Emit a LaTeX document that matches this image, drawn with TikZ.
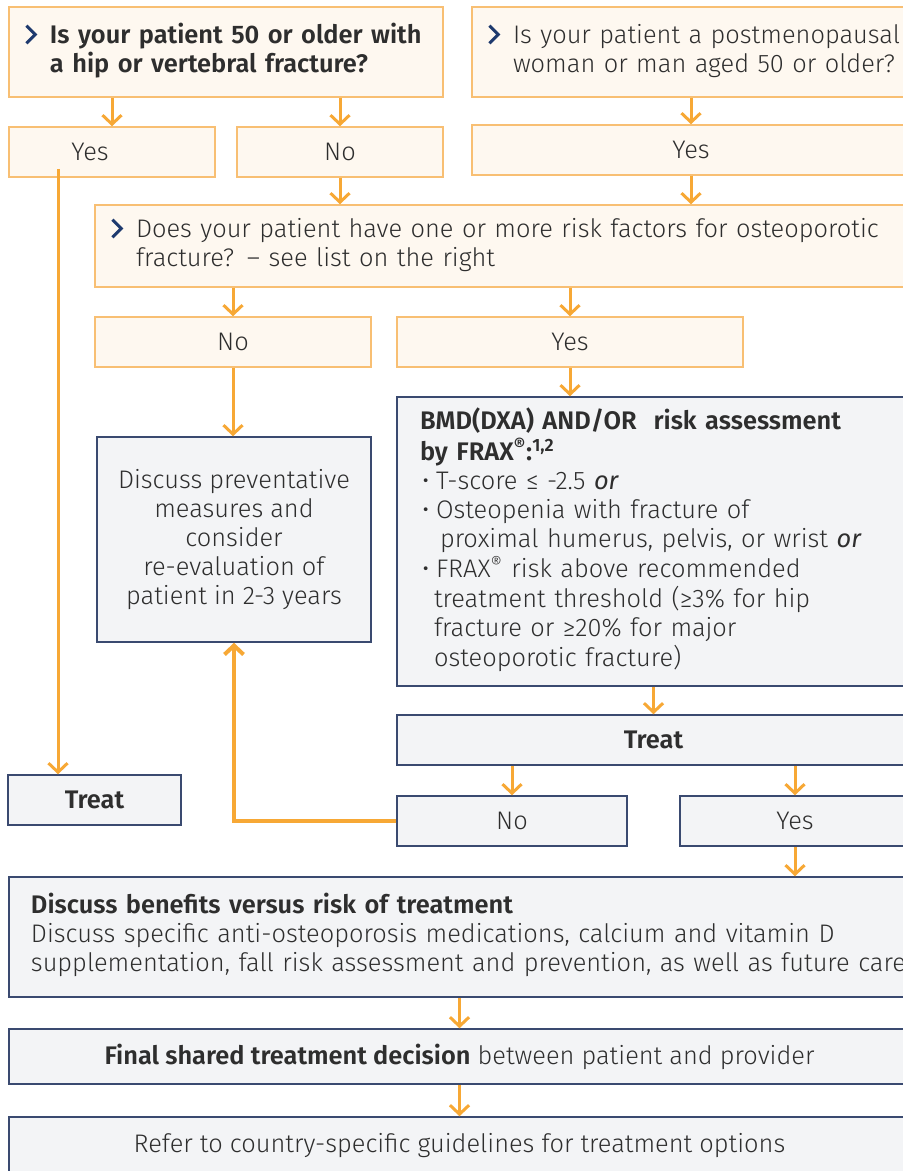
\documentclass[tikz,border=0pt]{standalone}
\usepackage{fontspec}
\setmainfont{Fira Sans}[UprightFont=* Light, BoldFont=* SemiBold, ItalicFont=* Italic, BoldItalicFont=* SemiBold Italic]
\usetikzlibrary{arrows.meta, calc}

\definecolor{cream}{HTML}{FEF8F0}
\definecolor{obord}{HTML}{F8BF73}
\definecolor{arrorange}{HTML}{F7A835}
\definecolor{greyfill}{HTML}{F3F4F6}
\definecolor{navyline}{HTML}{3A4A70}
\definecolor{chevblue}{HTML}{1E3A6E}
\definecolor{txt}{HTML}{2E2E2E}

\newcommand{\chev}{\tikz[baseline=0pt]\draw[chevblue, line width=1.5pt] (0pt,8.8pt) -- (4.4pt,4.4pt) -- (0pt,0pt);}
\newcommand{\chevcell}{\makebox[12.5pt][l]{\chev}}
\newcommand{\bul}{\makebox[8pt][l]{\hspace{1pt}•}}

\tikzset{
  every node/.style={font=\fontsize{12.7}{14.5}\selectfont, text=txt},
  qbox/.style={draw=obord, fill=cream, line width=0.75pt, inner xsep=8pt, inner ysep=0pt},
  abox/.style={draw=obord, fill=cream, line width=0.75pt, minimum height=25pt, inner sep=0pt},
  gbox/.style={draw=navyline, fill=greyfill, line width=0.75pt, inner sep=0pt},
  arr/.style={draw=arrorange, line width=1.5pt, -{Straight Barb[length=4.5pt, width=9.5pt]}},
}

\begin{document}
\begin{tikzpicture}[x=0.5pt, y=-0.5pt]
  \useasboundingbox (0,0) rectangle (903,1171);
  \fill[white] (0,0) rectangle (903,1171);
  \clip (0,0) rectangle (903,1171);

  \node[qbox, text width=201pt, minimum height=45pt] (q1) at (226,52)
    {\noindent\begin{tabular}{@{}l@{}l@{}}\chevcell & \bfseries Is your patient 50 or older with\\ & \bfseries a hip or vertebral fracture?\end{tabular}};
  \node[qbox, text width=203pt, minimum height=45pt] (q2) at (691,52)
    {\noindent\begin{tabular}{@{}l@{}l@{}}\chevcell & Is your patient a postmenopausal\\ & woman or man aged 50 or older?\end{tabular}};

  \node[abox, minimum width=103pt] (yes1) at (112,152) {Yes\hspace*{22pt}};
  \node[abox, minimum width=103pt] (no1) at (340,152) {No};
  \node[abox, minimum width=219pt] (yes2) at (691,150) {Yes};

  \node[qbox, text width=391.5pt, minimum height=41pt] (risk) at (502.5,246)
    {\noindent\begin{tabular}{@{}l@{}l@{}}\chevcell & Does your patient have one or more risk factors for osteoporotic\\ & fracture? – see list on the right\end{tabular}};

  \node[abox, minimum width=138pt] (no2) at (233,342) {No};
  \node[abox, minimum width=173pt] (yes3) at (570,342) {Yes};

  \node[gbox, align=center, minimum width=137pt, minimum height=102.5pt] (prevent) at (234,539.5)
    {Discuss preventative\\measures and\\consider\\re-evaluation of\\patient in 2-3 years};

  \node[gbox, inner xsep=11.5pt, text width=233.5pt, minimum height=144.5pt] (bmd) at (653.5,541.5)
    {\noindent\begin{tabular}{@{}l@{}l@{}}
      \multicolumn{2}{@{}l@{}}{\bfseries BMD(DXA) AND/OR\ \ risk assessment}\\
      \multicolumn{2}{@{}l@{}}{\bfseries by FRAX\textsuperscript{®}:\textsuperscript{1,2}}\\
      \bul & T-score ≤ -2.5 \textit{or}\\
      \bul & Osteopenia with fracture of\\
           & \hspace{2pt}proximal humerus, pelvis, or wrist \textit{or}\\
      \bul & FRAX\textsuperscript{®} risk above recommended\\
           & \hspace{-1pt}treatment threshold (≥3\% for hip\\
           & \hspace{-1pt}fracture or ≥20\% for major\\
           & \hspace{-1pt}osteoporotic fracture)
    \end{tabular}};

  \node[gbox, minimum width=256.5pt, minimum height=25pt] (treat1) at (653.5,740) {\bfseries Treat};
  \node[gbox, minimum width=86.5pt, minimum height=25pt] (treat2) at (94.5,800) {\bfseries Treat};
  \node[gbox, minimum width=115pt, minimum height=25pt] (no3) at (512,821) {No};
  \node[gbox, minimum width=115pt, minimum height=25pt] (yes4) at (795,821) {Yes};

  \node[gbox, inner xsep=11pt, text width=428.5pt, minimum height=60pt] (benefits) at (459.5,937)
    {\noindent\begin{tabular}{@{}l@{}}
      \bfseries Discuss benefits versus risk of treatment\\
      Discuss specific anti-osteoporosis medications, calcium and vitamin D\\
      supplementation, fall risk assessment and prevention, as well as future care
    \end{tabular}};
  \node[gbox, minimum width=450.5pt, minimum height=27.5pt] (final) at (459.5,1056.5)
    {\textbf{Final shared treatment decision} between patient and provider};
  \node[gbox, minimum width=450.5pt, minimum height=29pt] (refer) at (459.5,1146)
    {Refer to country-specific guidelines for treatment options};

  \coordinate (yesdrop) at (58,169);

  \draw[arr] (q1.south -| yes1.north) -- (yes1.north);
  \draw[arr] (q1.south -| no1.north) -- (no1.north);
  \draw[arr] (q2.south -| yes2.north) -- (yes2.north);
  \draw[arr] (no1.south) -- (no1.south |- risk.north);
  \draw[arr] (yes2.south) -- (yes2.south |- risk.north);
  \draw[arr] (risk.south -| no2.north) -- (no2.north);
  \draw[arr] (risk.south -| yes3.north) -- (yes3.north);
  \draw[arr] (no2.south) -- (no2.south |- prevent.north);
  \draw[arr] (yes3.south) -- (yes3.south |- bmd.north);
  \draw[arr] (yesdrop) -- (yesdrop |- treat2.north);
  \draw[arr] (bmd.south -| treat1.north) -- (treat1.north);
  \draw[arr] (treat1.south -| no3.north) -- (no3.north);
  \draw[arr] (treat1.south -| yes4.north) -- (yes4.north);
  \draw[arr, line width=2pt] (no3.west) -| (prevent.south);
  \draw[arr] (yes4.south) -- (yes4.south |- benefits.north);
  \draw[arr] (benefits.south) -- (final.north);
  \draw[arr] (final.south) -- (refer.north);
\end{tikzpicture}
\end{document}
